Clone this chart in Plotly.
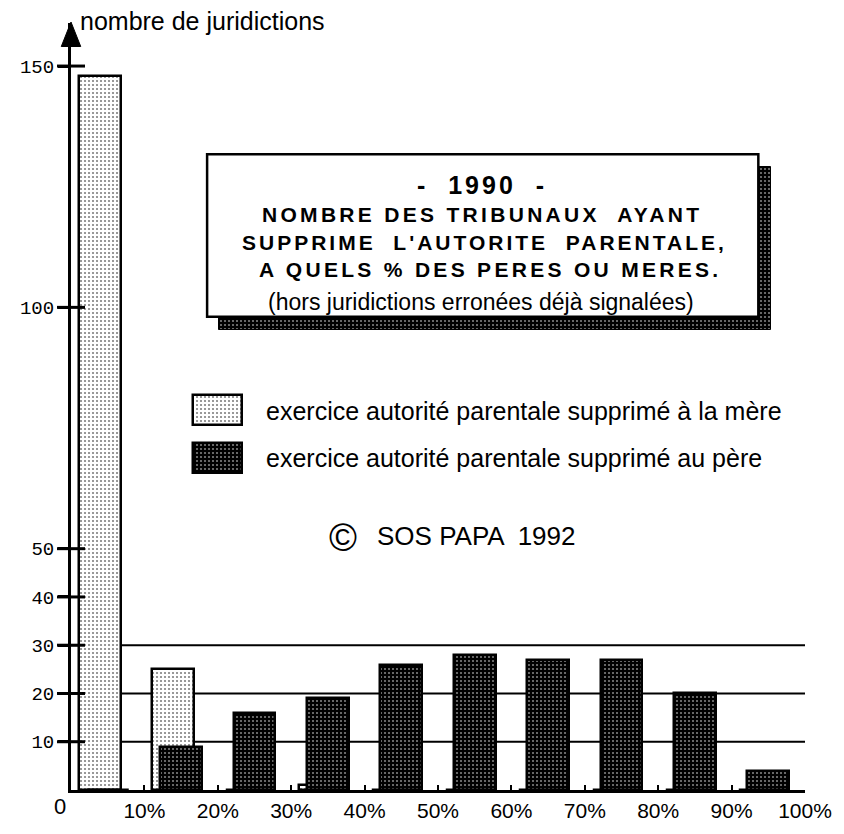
import plotly.graph_objects as go

# ---------------- data ----------------
categories = ["0-10%", "10-20%", "20-30%", "30-40%", "40-50%",
              "50-60%", "60-70%", "70-80%", "80-90%", "90-100%"]
bin_centers = [5, 15, 25, 35, 45, 55, 65, 75, 85, 95]
mother_values = [148, 25, 0, 1, 0, 0, 0, 0, 0, 0]
father_values = [0, 9, 16, 19, 26, 28, 27, 27, 20, 4]

y_tick_values = [10, 20, 30, 40, 50, 100, 150]
y_tick_labels = ["10", "20", "30", "40", "50", "100", "150"]
x_tick_values = [0, 10, 20, 30, 40, 50, 60, 70, 80, 90, 100]
x_tick_labels = ["0", "10%", "20%", "30%", "40%", "50%", "60%", "70%", "80%", "90%", "100%"]
grid_values = [10, 20, 30]

y_title = "nombre de juridictions"
box_lines = [
    "-  1990  -",
    "NOMBRE DES TRIBUNAUX  AYANT",
    "SUPPRIME  L'AUTORITE  PARENTALE,",
    "A QUELS % DES PERES OU MERES.",
    "(hors juridictions erronées déjà signalées)",
]
legend_labels = ["exercice autorité parentale supprimé à la mère",
                 "exercice autorité parentale supprimé au père"]
copyright_text = "SOS PAPA  1992"

# ---------------- layout geometry ----------------
OFF = 8                      # default body margin of the html page
W, H = 844 - OFF, 834 - OFF
ML, MR, MT, MB = 47, 34, 15, 28
PW, PH = W - ML - MR, H - MT - MB
PX_PER_UNIT = 4.927
YMAX = PH / PX_PER_UNIT
XMAX = 100


def px_x(px):
    return (px - OFF - ML) / PW * XMAX


def px_y(py):
    return (H - MB - (py - OFF)) / PH * YMAX


def pap_x(px):
    return (px - OFF - ML) / PW


def pap_y(py):
    return (H - MB - (py - OFF)) / PH


SANS = "Liberation Sans, Arial, Helvetica, sans-serif"
MONO = "Liberation Mono, Courier New, monospace"

light_pattern = dict(shape=".", fgcolor="black", bgcolor="white", size=4, solidity=0.22)
dark_pattern = dict(shape=".", fgcolor="white", bgcolor="black", size=4, solidity=0.22)

BAR_W = 5.7
MOTHER_SHIFT = -1.1

fig = go.Figure()

# shadow of the title box (decoration)
sx0, sx1, sy0, sy1 = 207, 775, 170, 336
fig.add_trace(go.Bar(
    x=[(px_x(sx0) + px_x(sx1)) / 2], y=[px_y(sy0) - px_y(sy1)], base=[px_y(sy1)],
    width=[px_x(sx1) - px_x(sx0)],
    marker=dict(color="black", line=dict(color="black", width=1), pattern=dark_pattern),
    showlegend=False, hoverinfo="skip"))

# legend swatches (decoration)
for (top, bot), patt in [((403, 433), light_pattern), ((452, 482), dark_pattern)]:
    fig.add_trace(go.Bar(
        x=[(px_x(180) + px_x(231)) / 2], y=[px_y(top) - px_y(bot)], base=[px_y(bot)],
        width=[px_x(231) - px_x(180)],
        marker=dict(color="black", line=dict(color="black", width=2.5), pattern=patt),
        showlegend=False, hoverinfo="skip"))

# data bars
fig.add_trace(go.Bar(
    x=bin_centers, y=mother_values, width=BAR_W, offset=-BAR_W / 2 + MOTHER_SHIFT,
    name=legend_labels[0], customdata=categories,
    marker=dict(color="black", line=dict(color="black", width=2.5), pattern=light_pattern),
    showlegend=False))
fig.add_trace(go.Bar(
    x=bin_centers, y=father_values, width=BAR_W, offset=-BAR_W / 2,
    name=legend_labels[1], customdata=categories,
    marker=dict(color="black", line=dict(color="black", width=2.5), pattern=dark_pattern),
    showlegend=False))

# y tick marks crossing the axis
fig.add_trace(go.Scatter(
    x=[0] * len(y_tick_values), y=y_tick_values, mode="markers",
    marker=dict(symbol="line-ew", size=20, line=dict(color="black", width=3)),
    cliponaxis=False, showlegend=False, hoverinfo="skip"))

shapes = []
for g in grid_values:
    shapes.append(dict(type="line", xref="x", yref="y", x0=0, x1=XMAX, y0=g, y1=g,
                       line=dict(color="black", width=2), layer="below"))
# arrow head on y axis
shapes.append(dict(type="path", xref="paper", yref="paper",
                   path=f"M {pap_x(45)} {pap_y(47)} L {pap_x(55)} {pap_y(22)} L {pap_x(65)} {pap_y(47)} Z",
                   fillcolor="black", line=dict(color="black", width=1), layer="above"))
# title box
shapes.append(dict(type="rect", xref="paper", yref="paper",
                   x0=pap_x(195), x1=pap_x(762), y0=pap_y(323), y1=pap_y(157),
                   fillcolor="white", line=dict(color="black", width=2.5), layer="above"))

ann = []
ann.append(dict(text=y_title, xref="paper", yref="paper", x=pap_x(62), y=pap_y(21),
                xanchor="left", yanchor="middle", showarrow=False,
                font=dict(family=SANS, size=25, color="black")))
ann.append(dict(text=x_tick_labels[0], xref="paper", yref="paper", x=pap_x(44), y=pap_y(823),
                xanchor="center", yanchor="middle", showarrow=False,
                font=dict(family=SANS, size=22, color="black")))

box_y = [188, 219, 247, 275, 308]
box_cx = [478, 478, 480, 486, 477]
box_fonts = [
    (25, True, 3.0),
    (21, True, 3.3),
    (21, True, 3.0),
    (21, True, 3.3),
    (23, False, 0),
]
for line, yy, cx, (fs, bold, ls) in zip(box_lines, box_y, box_cx, box_fonts):
    t = line
    if ls:
        t = f'<span style="letter-spacing:{ls}px">{t}</span>'
    if bold:
        t = f"<b>{t}</b>"
    ann.append(dict(text=t, xref="paper", yref="paper", x=pap_x(cx), y=pap_y(yy),
                    xanchor="center", yanchor="middle", showarrow=False,
                    font=dict(family=SANS, size=fs, color="black")))

for lab, yy in zip(legend_labels, [419, 467]):
    ann.append(dict(text=lab, xref="paper", yref="paper", x=pap_x(254), y=pap_y(yy),
                    xanchor="left", yanchor="middle", showarrow=False,
                    font=dict(family=SANS, size=25, color="black")))

ann.append(dict(text="©", xref="paper", yref="paper", x=pap_x(335), y=pap_y(549),
                xanchor="center", yanchor="middle", showarrow=False,
                font=dict(family=SANS, size=38, color="black")))
ann.append(dict(text=copyright_text, xref="paper", yref="paper", x=pap_x(368), y=pap_y(547),
                xanchor="left", yanchor="middle", showarrow=False,
                font=dict(family=SANS, size=26, color="black")))

fig.update_layout(
    width=W, height=H,
    margin=dict(l=ML, r=MR, t=MT, b=MB, pad=0),
    paper_bgcolor="white", plot_bgcolor="white",
    barmode="overlay", bargap=0,
    shapes=shapes, annotations=ann,
    showlegend=False,
    xaxis=dict(range=[0, XMAX], showline=True, linewidth=3, linecolor="black",
               ticks="inside", ticklen=5, tickwidth=2, tickcolor="black",
               tickvals=x_tick_values, ticktext=[""] + x_tick_labels[1:],
               tickfont=dict(family=SANS, size=21, color="black"),
               showgrid=False, zeroline=False, fixedrange=True),
    yaxis=dict(range=[0, YMAX], showline=True, linewidth=3, linecolor="black",
               ticks="outside", ticklen=10, tickwidth=3, tickcolor="black",
               tickvals=y_tick_values, ticktext=y_tick_labels,
               tickfont=dict(family=MONO, size=19, color="black"),
               showgrid=False, zeroline=False, fixedrange=True),
)

fig.write_html("out.html", config={"displayModeBar": False})
